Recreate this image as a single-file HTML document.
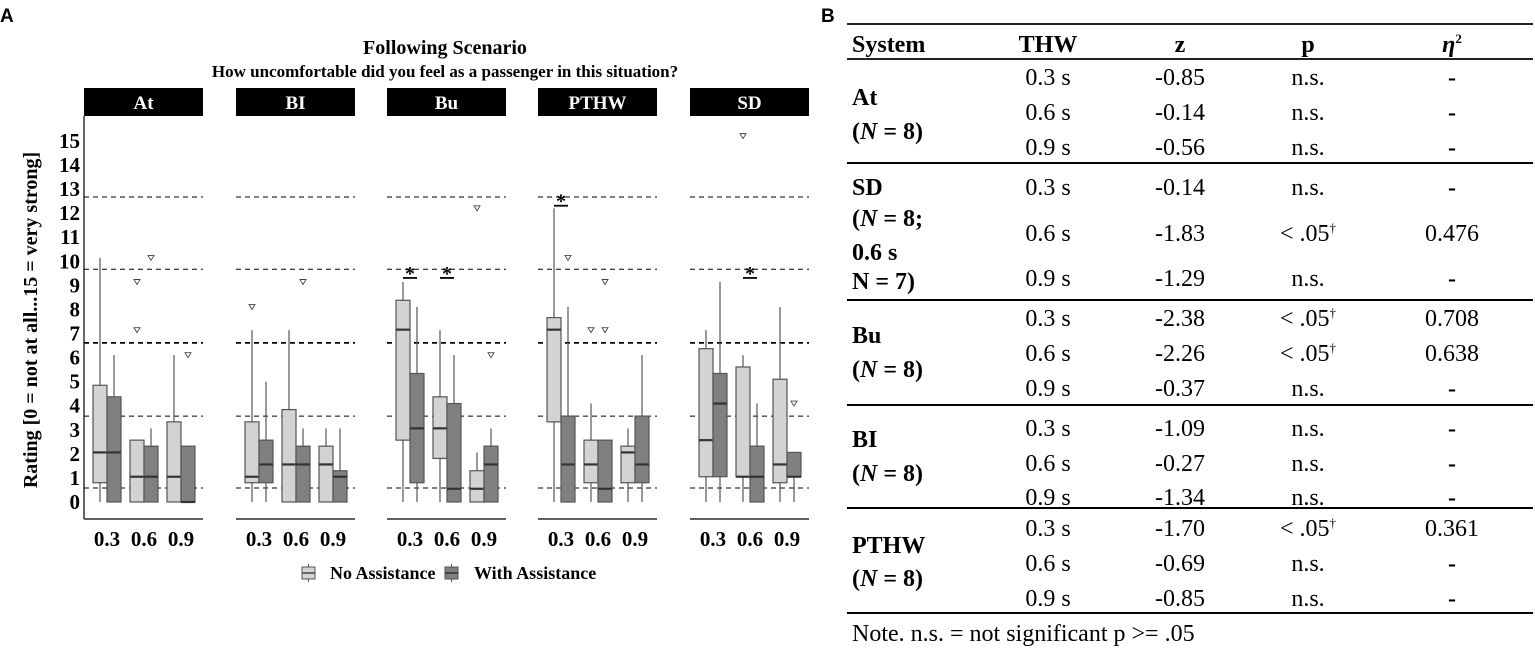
<!DOCTYPE html>
<html><head><meta charset="utf-8"><style>
body{margin:0;background:#fff;width:1535px;height:648px;overflow:hidden}
svg{display:block}
text{font-family:"Liberation Serif",serif}
</style></head><body>
<svg id="fig" width="1535" height="648" xmlns="http://www.w3.org/2000/svg">
<text x="0" y="22" font-weight="bold" font-size="19" style="font-family:'Liberation Sans',sans-serif">A</text>
<text x="821" y="22" font-weight="bold" font-size="19" style="font-family:'Liberation Sans',sans-serif">B</text>
<text x="445" y="54" text-anchor="middle" font-weight="bold" font-size="20">Following Scenario</text>
<text x="445" y="77" text-anchor="middle" font-weight="bold" font-size="17">How uncomfortable did you feel as a passenger in this situation?</text>
<text transform="translate(37,320) rotate(-90)" text-anchor="middle" font-weight="bold" font-size="20">Rating [0 = not at all...15 = very strong]</text>
<line x1="84" y1="116" x2="84" y2="519" stroke="#000" stroke-width="1.2"/>
<g id="chart"></g>
<g>
<g>
<line x1="308.5" y1="564" x2="308.5" y2="582" stroke="#555"/><rect x="302" y="567" width="13" height="12" fill="#d3d3d3" stroke="#555"/><line x1="302" y1="573" x2="315" y2="573" stroke="#444" stroke-width="1.5"/>
<text x="330" y="579" font-weight="bold" font-size="18">No Assistance</text></g>
<g>
<line x1="451.5" y1="564" x2="451.5" y2="582" stroke="#555"/><rect x="445" y="567" width="13" height="12" fill="#808080" stroke="#555"/><line x1="445" y1="573" x2="458" y2="573" stroke="#333" stroke-width="1.5"/>
<text x="474" y="579" font-weight="bold" font-size="18">With Assistance</text></g>
</g>
<g id="table"></g>
</svg>
<script>
const NS="http://www.w3.org/2000/svg";
const systems=["At","BI","Bu","PTHW","SD"];
const thw=["0.3","0.6","0.9"];
const yTicks=[0,1,2,3,4,5,6,7,8,9,10,11,12,13,14,15];
const refLines=[12.67,9.67,6.61,3.57,0.58];
// each entry: [whiskerLow, q1, median, q3, whiskerHigh] per system, per THW
const noAssist=[
 [[0,0.8,2.06,4.85,10.14],[0,0,1.05,2.57,2.57],[0,0,1.05,3.33,6.1]],
 [[0,0.8,1.05,3.33,7.14],[0,0,1.56,3.84,7.14],[0,0,1.56,2.32,3.06]],
 [[0,2.57,7.16,8.38,9.14],[0,1.81,3.06,4.37,7.14],[0,0,0.55,1.3,2.06]],
 [[0,3.33,7.16,7.66,12.2],[0,0.8,1.56,2.57,4.09],[0,0.8,2.06,2.32,3.06]],
 [[0,1.05,2.57,6.37,7.14],[0,1.05,1.05,5.61,6.1],[0,0.8,1.56,5.1,8.1]]
];
const withAssist=[
 [[0,0,2.06,4.37,6.1],[0,0,1.05,2.32,3.06],[0,0,0,2.32,2.32]],
 [[0,0.8,1.56,2.57,5.0],[0,0,1.56,2.32,3.06],[0,0,1.05,1.3,3.06]],
 [[0,0.8,3.06,5.34,8.1],[0,0,0.55,4.09,6.1],[0,0,1.56,2.32,3.06]],
 [[0,0,1.56,3.57,8.1],[0,0,0.55,2.57,2.57],[0,0.8,1.56,3.57,6.1]],
 [[0,1.05,4.09,5.34,9.14],[0,0,1.05,2.32,4.09],[0,1.05,1.05,2.06,2.06]]
];
// outliers: [systemIndex, thwIndex, group(0=no,1=with), value]
const outliers=[[0,1,0,9.14],[0,1,0,7.14],[0,1,1,10.14],[0,2,1,6.1],[1,0,0,8.1],[1,1,1,9.14],
 [2,2,0,12.2],[2,2,1,6.1],[3,0,1,10.14],[3,1,0,7.14],[3,1,1,7.14],[3,1,1,9.14],[4,1,0,15.2],[4,2,1,4.09]];
// significance stars: [systemIndex, thwIndex, value]
const stars=[[2,0,9.6],[2,1,9.6],[3,0,12.6],[4,1,9.6]];

const panelLeft=[84,236,387,538,690], panelW=119;
const yScale=v=>502-24.07*v;
const xCenter=(s,t)=>panelLeft[s]+23+37*t;
const g=document.getElementById('chart');
function mk(tag,attrs,parent){const e=document.createElementNS(NS,tag);for(const k in attrs)e.setAttribute(k,attrs[k]);(parent||g).appendChild(e);return e;}

yTicks.forEach(v=>{
 const t=mk('text',{x:80,y:yScale(v)+7,'text-anchor':'end','font-weight':'bold','font-size':21});
 
 
 t.textContent=v;
});
systems.forEach((s,si)=>{
 const x0=panelLeft[si];
 const st=mk('rect',{x:x0,y:88,width:panelW,height:28,fill:'#000'});
 
 
 const tt=mk('text',{x:x0+panelW/2,y:109,'text-anchor':'middle',fill:'#fff','font-weight':'bold','font-size':19});
 
 
 tt.textContent=s;
 const ax=mk('line',{x1:x0,x2:x0+panelW,y1:519,y2:519,stroke:'#000','stroke-width':1.3});
 
 
 refLines.forEach((v,i)=>{
  const l=mk('line',{x1:x0,x2:x0+panelW,y1:yScale(v),y2:yScale(v),stroke:'#000','stroke-width':i==2?1.8:1,'stroke-dasharray':'5,4'});
  
  
 });
 thw.forEach((t,ti)=>{
  const xc=xCenter(si,ti);
  const lab=mk('text',{x:xc,y:546,'text-anchor':'middle','font-weight':'bold','font-size':21});
  
  
  lab.textContent=t;
  [noAssist,withAssist].forEach((ds,gi)=>{
   const d=ds[si][ti];const bx=xc-14+14*gi, cx=bx+7;
   const gg=mk('g',{});
   
   
   mk('line',{x1:cx,x2:cx,y1:yScale(d[0]),y2:yScale(d[4]),stroke:'#555','stroke-width':1.2},gg);
   mk('rect',{x:bx,y:yScale(d[3]),width:14,height:Math.max(0.5,yScale(d[1])-yScale(d[3])),fill:gi?'#808080':'#d3d3d3',stroke:'#555','stroke-width':1.2},gg);
   mk('line',{x1:bx,x2:bx+14,y1:yScale(d[2]),y2:yScale(d[2]),stroke:'#333','stroke-width':2.2},gg);
  });
 });
});
outliers.forEach(o=>{
 const cx=xCenter(o[0],o[1])-7+14*o[2], cy=yScale(o[3]);
 const p=mk('path',{d:`M${cx-3},${cy-2.5} L${cx+3},${cy-2.5} L${cx},${cy+2.5} Z`,fill:'#fff',stroke:'#444','stroke-width':0.9});
 
 
});
stars.forEach(o=>{
 const cx=xCenter(o[0],o[1]), cy=yScale(o[2]);
 const sg=mk('g',{});
 
 
 mk('line',{x1:cx-7,x2:cx+7,y1:cy+7,y2:cy+7,stroke:'#000','stroke-width':1.8},sg);
 const t=mk('text',{x:cx,y:cy+9,'text-anchor':'middle','font-weight':'bold','font-size':20},sg);t.textContent='*';
});

// table
const tg=document.getElementById('table');
const tl=(y,w)=>{const l=mk('line',{x1:847,x2:1533,y1:y,y2:y,stroke:'#000','stroke-width':w},tg);};
[24,59,163,300,405,508,613].forEach((y,i)=>tl(y,i==0||i==1?1.8:2));
function tt(x,y,txt,anchor,bold,name,size){const t=mk('text',{x:x,y:y,'text-anchor':anchor,'font-size':size||24,'font-weight':bold?'bold':'normal'},tg);t.innerHTML=txt;return t;}
const cx=[1048,1180,1308,1452];
tt(852,52,'System','start',1,'header-system');
tt(cx[0],52,'THW','middle',1,'header-thw');
tt(cx[1],52,'z','middle',1,'header-z');
tt(cx[2],52,'p','middle',1,'header-p');
tt(cx[3],52,'<tspan font-style="italic">η</tspan><tspan font-size="13" dy="-9">2</tspan>','middle',1,'header-eta');
const rows=[
 [85,'0.3 s','-0.85','n.s.','-'],[120,'0.6 s','-0.14','n.s.','-'],[155,'0.9 s','-0.56','n.s.','-'],
 [195,'0.3 s','-0.14','n.s.','-'],[241,'0.6 s','-1.83','&lt; .05<tspan font-size="13" dy="-9">†</tspan>','0.476'],[286,'0.9 s','-1.29','n.s.','-'],
 [326,'0.3 s','-2.38','&lt; .05<tspan font-size="13" dy="-9">†</tspan>','0.708'],[361,'0.6 s','-2.26','&lt; .05<tspan font-size="13" dy="-9">†</tspan>','0.638'],[396,'0.9 s','-0.37','n.s.','-'],
 [436,'0.3 s','-1.09','n.s.','-'],[471,'0.6 s','-0.27','n.s.','-'],[505,'0.9 s','-1.34','n.s.','-'],
 [536,'0.3 s','-1.70','&lt; .05<tspan font-size="13" dy="-9">†</tspan>','0.361'],[571,'0.6 s','-0.69','n.s.','-'],[606,'0.9 s','-0.85','n.s.','-']];
rows.forEach(r=>{tt(cx[0],r[0],r[1],'middle',0,'cell-thw');tt(cx[1],r[0],r[2],'middle',0,'cell-z');tt(cx[2],r[0],r[3],'middle',0,'cell-p');tt(cx[3],r[0],r[4],'middle',r[4]=='-'?1:0,'cell-eta');});
const sys=[[105,'At'],[139,'(<tspan font-style="italic">N</tspan> = 8)'],[195,'SD'],[226,'(<tspan font-style="italic">N</tspan> = 8;'],[260,'0.6 s'],[289,'N = 7)'],
 [343,'Bu'],[377,'(<tspan font-style="italic">N</tspan> = 8)'],[447,'BI'],[481,'(<tspan font-style="italic">N</tspan> = 8)'],[553,'PTHW'],[586,'(<tspan font-style="italic">N</tspan> = 8)']];
sys.forEach(s=>tt(852,s[0],s[1],'start',1,'system-label'));
tt(852,641,'Note. n.s. = not significant p &gt;= .05','start',0,'table-note');
</script>
</body></html>
